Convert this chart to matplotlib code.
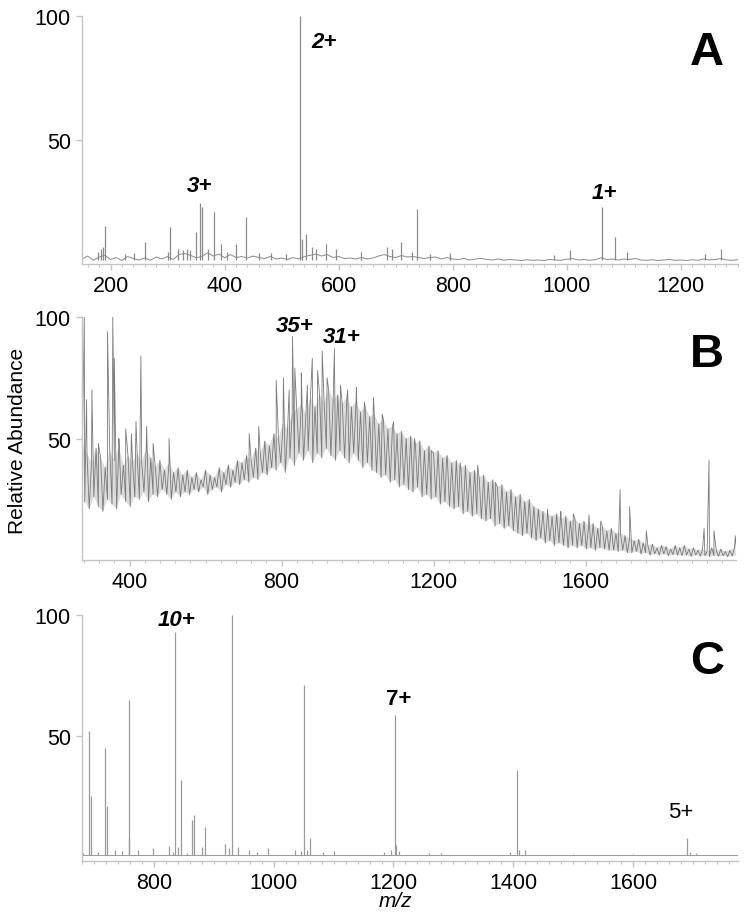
import numpy as np
import matplotlib
matplotlib.use("Agg")
import matplotlib.pyplot as plt
from matplotlib.ticker import MultipleLocator

plt.rcParams['font.family'] = ['Liberation Sans', 'DejaVu Sans']

# ---------------- panel A data ----------------
a_noise_mz = np.arange(150, 1301, 10)
a_noise = [2.0, 3.2, 1.5, 2.8, 3.5, 1.8, 2.6, 1.4, 3.0, 2.2, 1.6, 2.4,
           1.5, 2.8, 2.0, 3.0, 1.8, 3.8, 4.2, 3.5, 2.5, 3.0, 4.5, 3.2,
           4.0, 2.5, 3.8, 2.6, 3.0, 2.4, 3.2, 2.6, 2.2, 3.0, 2.0, 2.4,
           1.8, 2.6, 2.0, 3.0, 3.5, 4.0, 3.2, 3.8, 2.6, 3.0, 2.2, 2.4,
           2.0, 2.6, 2.0, 2.4, 3.2, 3.8, 3.0, 2.6, 3.4, 2.8, 3.0, 2.6,
           2.2, 2.6, 2.8, 2.0, 2.6, 2.0, 1.8, 2.2, 1.6, 2.0, 2.2, 1.8,
           1.6, 2.0, 1.5, 1.8, 1.6, 1.4, 1.7, 1.5, 1.6, 1.4, 1.8, 1.6,
           1.5, 1.9, 2.2, 1.6, 1.8, 1.5, 1.7, 2.5, 1.8, 2.0, 1.6, 2.0,
           1.8, 2.2, 1.6, 1.5, 1.7, 1.4, 1.6, 1.8, 1.5, 1.6, 1.4, 1.7,
           1.5, 2.0, 1.6, 1.8, 2.2, 1.6, 1.5, 1.7]
a_peak_mz = [178, 183, 186, 191, 226, 241, 261, 300, 305, 318, 327, 334,
             340, 349, 356, 360, 371, 382, 393, 405, 420, 438, 460, 482,
             507, 532, 535, 543, 554, 560, 578, 596, 640, 684, 694, 710,
             728, 738, 760, 795, 977, 1005, 1061, 1084, 1105, 1242, 1270]
a_peak_h = [5, 6, 7, 15.3, 4, 4.5, 9, 5, 15, 6, 5.5, 6,
            5.5, 13, 24.6, 23, 6, 21, 8, 5, 8, 19, 4.5, 4.5,
            4, 100, 10, 12, 7, 6, 8, 6, 5, 7, 6, 9,
            5, 22, 4, 4.5, 3.5, 5.7, 23, 11, 5, 4, 6]

# ---------------- panel B data ----------------
b_step = 12
b_start = 276
b_tops = [48, 44, 40, 46, 42, 38, 45, 41, 47, 39, 43, 40,
          44, 40, 46, 42, 38, 41, 37, 40, 36, 38, 35, 37,
          34, 36, 33, 37, 35, 34, 38, 36, 39, 37, 41, 40,
          43, 41, 46, 44, 49, 47, 52, 50, 56, 54, 60, 62,
          64, 60, 67, 63, 68, 65, 70, 66, 68, 64, 67, 63,
          65, 61, 63, 59, 60, 56, 58, 54, 55, 52, 53, 50,
          51, 48, 49, 45, 47, 44, 45, 42, 43, 40, 41, 38,
          39, 36, 37, 34, 35, 32, 33, 30, 31, 28, 29, 26,
          27, 24, 25, 22, 21, 20, 19, 18, 19, 17, 18, 16,
          17, 15, 16, 14, 15, 13, 14, 12, 13, 11, 11, 10,
          9, 8, 8.5, 7, 6, 6.5, 5, 6, 5.5, 4.5, 6, 5,
          6, 4.5, 5, 4, 4.5, 3.5, 5, 4, 4.5, 3.5, 4, 5]
b_lows = [24, 21, 26, 22, 20, 25, 23, 21, 27, 24, 22, 26,
          25, 28, 24, 27, 26, 29, 27, 25, 28, 26, 28, 27,
          29, 28, 30, 27, 29, 30, 28, 31, 30, 32, 31, 33,
          32, 34, 33, 36, 35, 38, 37, 40, 36, 42, 39, 44,
          41, 45, 40, 44, 42, 46, 43, 41, 45, 42, 40, 44,
          41, 38, 40, 37, 36, 34, 35, 32, 33, 30, 31, 29,
          28, 30, 26, 27, 25, 26, 23, 24, 22, 21, 22, 19,
          20, 18, 19, 17, 16, 17, 14, 15, 13, 14, 12, 11,
          10, 11, 9, 8, 9, 7, 8, 6, 7, 6, 5, 6,
          5, 6, 4.5, 5, 4, 5, 4.5, 4, 4, 3.5, 4, 3,
          3, 3.5, 2.5, 3, 2, 2.5, 2, 2.5, 1.8, 2.2, 2, 1.8,
          2, 1.5, 2, 1.6, 1.8, 1.4, 1.8, 1.5, 1.7, 1.4, 1.6, 2]
b_spike_mz = [281, 287, 301, 318, 342, 356, 360, 372, 390, 405, 417, 430,
              445, 462, 504, 715, 740, 786, 805, 820, 829, 835, 852, 868,
              881, 895, 907, 920, 939, 955, 974, 997, 1018, 1042, 1065, 1095,
              1150, 1194, 1234, 1270, 1316, 1363, 1404, 1500, 1535, 1568, 1609,
              1640, 1691, 1716, 1760, 1912, 1925, 1938, 1994]
b_spike_h = [100, 66, 70, 48, 94, 100, 83, 50, 54, 52, 57, 84,
             55, 48, 50, 52, 55, 74, 75, 70, 92, 79, 77, 72,
             83, 78, 86, 75, 87, 72, 70, 71, 65, 67, 60, 57,
             50, 45, 41, 40, 39, 32, 29, 21, 20, 19, 18.6,
             16, 29, 22, 12, 13, 41, 12, 10]

# ---------------- panel C data ----------------
c_base = 0.6
c_peak_mz = [682, 692, 695, 707, 719, 721, 735, 746, 758, 759, 774, 798,
             826, 832, 836, 841, 845, 855, 863, 867, 880, 885, 919, 925,
             931, 940, 958, 972, 990, 1036, 1045, 1050, 1055, 1060, 1083,
             1101, 1185, 1196, 1203, 1205, 1210, 1260, 1280, 1395, 1406,
             1410, 1420, 1500, 1600, 1690, 1695, 1705]
c_peak_h = [1.5, 52, 25, 2, 45, 21, 3, 2.5, 8, 65, 3, 3.5,
            4.7, 2, 93, 4, 32, 1.5, 15.3, 17.4, 4, 12.3, 5.4, 3.5,
            100, 4, 2.7, 2, 3.5, 3, 2.5, 71, 3, 7.8, 2,
            2.5, 2, 3, 58.5, 5, 2.5, 1.5, 1.5, 2, 36,
            3, 3, 1.2, 1.2, 8, 2, 1.5]

spec_a = '#8a8a8a'
spec_b = '#7a7a7a'
spec_c = '#9a9a9a'
axis_col = '#c4c4c4'
lab_fs = 16

fig = plt.figure(figsize=(7.47, 9.2), dpi=100)
axA = fig.add_axes([0.1098, 0.712, 0.878, 0.2696])
axB = fig.add_axes([0.1098, 0.3902, 0.8755, 0.2641])
axC = fig.add_axes([0.1098, 0.0630, 0.878, 0.2674])


def style(ax, xlim, ylim, major, minor):
    ax.set_xlim(*xlim)
    ax.set_ylim(*ylim)
    for s in ['top', 'right']:
        ax.spines[s].set_visible(False)
    for s in ['left', 'bottom']:
        ax.spines[s].set_color(axis_col)
        ax.spines[s].set_linewidth(1.0)
    ax.set_yticks([50, 100])
    ax.xaxis.set_major_locator(MultipleLocator(major))
    ax.xaxis.set_minor_locator(MultipleLocator(minor))
    ax.tick_params(axis='both', which='major', color=axis_col, labelsize=15.5,
                   length=4, width=1, pad=4)
    ax.tick_params(axis='x', which='minor', color=axis_col, length=2.5, width=0.8)
    ax.tick_params(axis='y', which='minor', left=False)


# panel A
axA.plot(a_noise_mz, a_noise, color=spec_a, lw=0.7)
axA.vlines(a_peak_mz, 1.5, a_peak_h, color=spec_a, lw=0.9)
style(axA, (150, 1300), (0, 100), 200, 20)
axA.text(575, 89.5, '2+', fontsize=lab_fs, fontweight='bold', style='italic', ha='center', va='center')
axA.text(356, 31.5, '3+', fontsize=lab_fs, fontweight='bold', style='italic', ha='center', va='center')
axA.text(1065, 29, '1+', fontsize=lab_fs, fontweight='bold', style='italic', ha='center', va='center')
axA.text(0.953, 0.855, 'A', transform=axA.transAxes, fontsize=34, fontweight='bold',
         ha='center', va='center')

# panel B: zigzag trace with spikes merged in
b_top_mz = b_start + b_step * np.arange(len(b_tops))
b_low_mz = b_top_mz + b_step / 2
b_mz = np.concatenate([b_top_mz, b_low_mz, b_spike_mz])
b_val = np.concatenate([b_tops, b_lows, b_spike_h])
order = np.argsort(b_mz, kind='stable')
# light band between valley and peak envelopes, then the trace itself
axB.fill(np.concatenate([b_top_mz, b_low_mz[::-1]]),
         np.concatenate([b_tops, b_lows[::-1]]), color='#dcdcdc', lw=0)
axB.plot(b_mz[order], b_val[order], color=spec_b, lw=0.6)
style(axB, (275, 1996), (0, 100), 400, 40)
axB.text(834, 96.7, '35+', fontsize=lab_fs, fontweight='bold', style='italic', ha='center', va='center')
axB.text(958, 92, '31+', fontsize=lab_fs, fontweight='bold', style='italic', ha='center', va='center')
axB.text(0.956, 0.848, 'B', transform=axB.transAxes, fontsize=34, fontweight='bold',
         ha='center', va='center')

# panel C
axC.plot([680, 1775], [c_base, c_base], color=spec_c, lw=0.7)
axC.vlines(c_peak_mz, c_base, c_peak_h, color=spec_c, lw=0.9)
style(axC, (680, 1775), (-1.7, 100), 200, 20)
axC.text(837, 98.3, '10+', fontsize=lab_fs, fontweight='bold', style='italic', ha='center', va='center')
axC.text(1208, 65.7, '7+', fontsize=lab_fs, fontweight='bold', ha='center', va='center')
axC.text(1679, 18.6, '5+', fontsize=lab_fs, ha='center', va='center')
axC.text(0.953, 0.813, 'C', transform=axC.transAxes, fontsize=34, fontweight='bold',
         ha='center', va='center')

fig.text(0.529, 0.0196, 'm/z', fontsize=15, style='italic', ha='center', va='center')
fig.text(0.0228, 0.5207, 'Relative Abundance', fontsize=15, rotation=90,
         ha='center', va='center')

fig.savefig('out.png', dpi=100)
